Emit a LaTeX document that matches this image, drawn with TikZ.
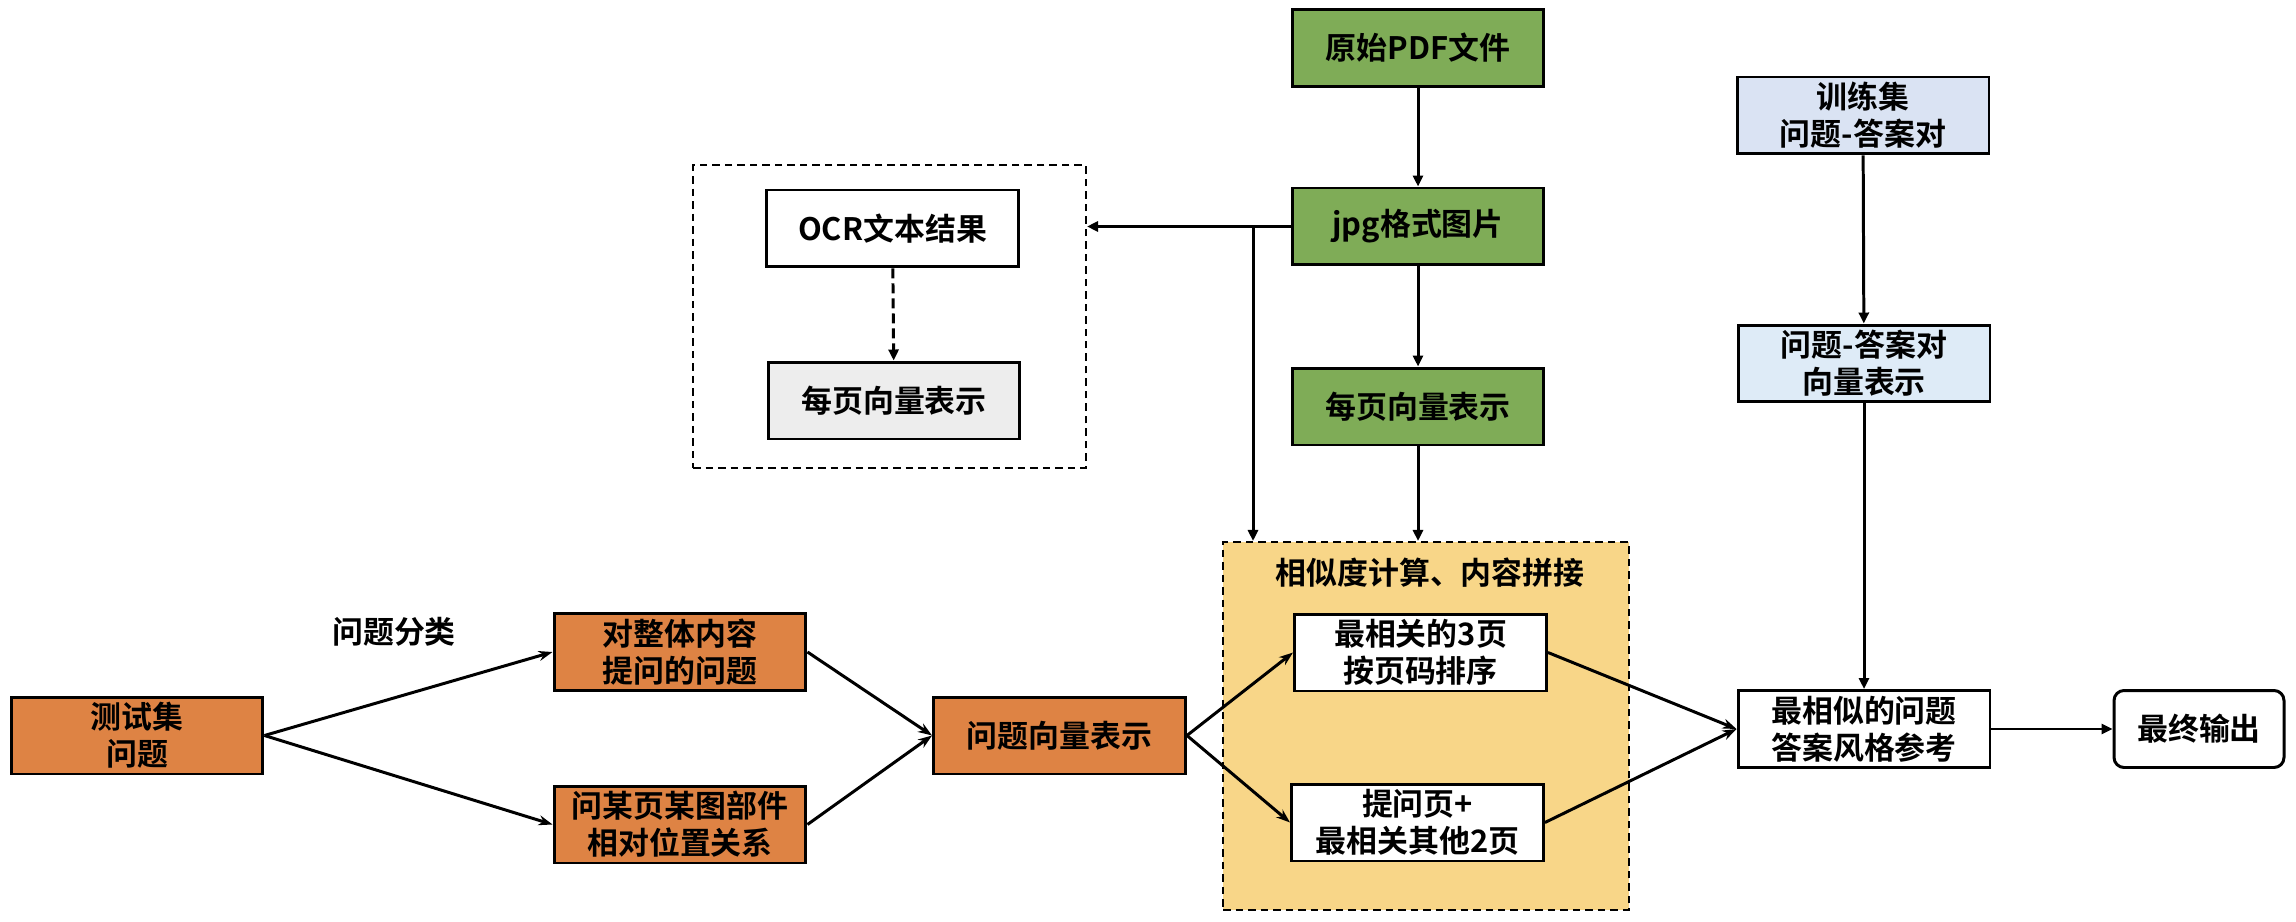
\documentclass[tikz,border=0pt]{standalone}
\usepackage{fontspec}
\setmainfont{Noto Sans CJK SC}[BoldFont={Noto Sans CJK SC Bold}]
\usetikzlibrary{arrows.meta}

\definecolor{pdfgreen}{RGB}{127,172,87}
\definecolor{qorange}{RGB}{222,131,68}
\definecolor{simyellow}{RGB}{248,214,136}
\definecolor{trainblue}{RGB}{218,227,243}
\definecolor{vecblue}{RGB}{222,235,247}
\definecolor{pagegray}{RGB}{237,237,237}

\begin{document}
\begin{tikzpicture}[x=0.02cm,y=-0.02cm,line width=1.7pt,>={Triangle[length=0.22cm,width=0.2cm]}]
			\useasboundingbox (0,0) rectangle (2296,922);
			\begin{scope}[font=\fontsize{17.6}{21}\selectfont\bfseries]
				\tikzstyle{every node}=[draw,line width=1.7pt,minimum width=5.04cm,minimum height=1.54cm,inner sep=0pt,align=center];
				\tikzstyle{frame}=[dashed,line width=1.2pt,dash pattern=on 0.15cm off 0.1cm];
				\tikzstyle{plain}=[draw=none,fill=none,minimum width=0pt,minimum height=0pt];
				\tikzstyle{lean}=[-{Stealth[length=0.28cm,width=0.2cm]}];
				\path (889.5,316.5) node [frame,minimum width=7.86cm,minimum height=6.06cm] (ocrframe) {};
				\path (1426,726) node [frame,fill=simyellow,minimum width=8.12cm,minimum height=7.36cm] (simframe) {};
				\path (1430,573) node [plain] (simtitle) {相似度计算、内容拼接};
				\path (1418,48) node [fill=pdfgreen] (pdf) {原始PDF文件};
				\path (1418,226.5) node [fill=pdfgreen] (jpg) {jpg格式图片};
				\path (1418,406.5) node [fill=pdfgreen] (pagevec) {每页向量表示};
				\path (892.5,228.5) node [fill=white] (ocr) {OCR文本结果};
				\path (894,400.5) node [fill=pagegray] (ocrvec) {每页向量表示};
				\path (1863,115.5) node [fill=trainblue] (train) {训练集\\问题-答案对};
				\path (1864,363.5) node [fill=vecblue] (qavec) {问题-答案对\\向量表示};
				\path (1864,729) node [fill=white] (best) {最相似的问题\\答案风格参考};
				\path (2199,729) node [fill=white,rounded corners=0.2cm,minimum width=3.4cm] (final) {最终输出};
				\path (137,735.5) node [fill=qorange] (test) {测试集\\问题};
				\path (394,632) node [plain] (qclass) {问题分类};
				\path (680,652) node [fill=qorange] (whole) {对整体内容\\提问的问题};
				\path (680,824.5) node [fill=qorange] (part) {问某页某图部件\\相对位置关系};
				\path (1059.5,735.5) node [fill=qorange] (qvec) {问题向量表示};
				\path (1420.5,652.5) node [fill=white] (top3) {最相关的3页\\按页码排序};
				\path (1417.5,822.5) node [fill=white] (ask) {提问页+\\最相关其他2页};
				\coordinate (tap) at (1253,228);
				\draw [->] (pdf) -- (jpg);
				\draw [->] (jpg) -- (pagevec);
				\draw [->] (pagevec) -- (pagevec |- simframe.north);
				\draw [->] (jpg.west) -- (jpg.west -| ocrframe.east);
				\draw [->] (tap) -- (tap |- simframe.north);
				\draw [->,dashed,dash pattern=on 0.2cm off 0.1cm] (ocr) -- (ocrvec);
				\draw [->] (train) -- (qavec);
				\draw [->] (qavec) -- (best);
				\draw [->] (best) -- (final);
				\draw [lean] (test.east) -- (whole.west);
				\draw [lean] (test.east) -- (part.west);
				\draw [lean] (whole.east) -- (qvec.west);
				\draw [lean] (part.east) -- (qvec.west);
				\draw [lean] (qvec.east) -- (top3.west);
				\draw [lean] (qvec.east) -- (ask.west);
				\draw [lean] (top3.east) -- (best.west);
				\draw [lean] (ask.east) -- (best.west);
			\end{scope}
		\end{tikzpicture}
\end{document}
